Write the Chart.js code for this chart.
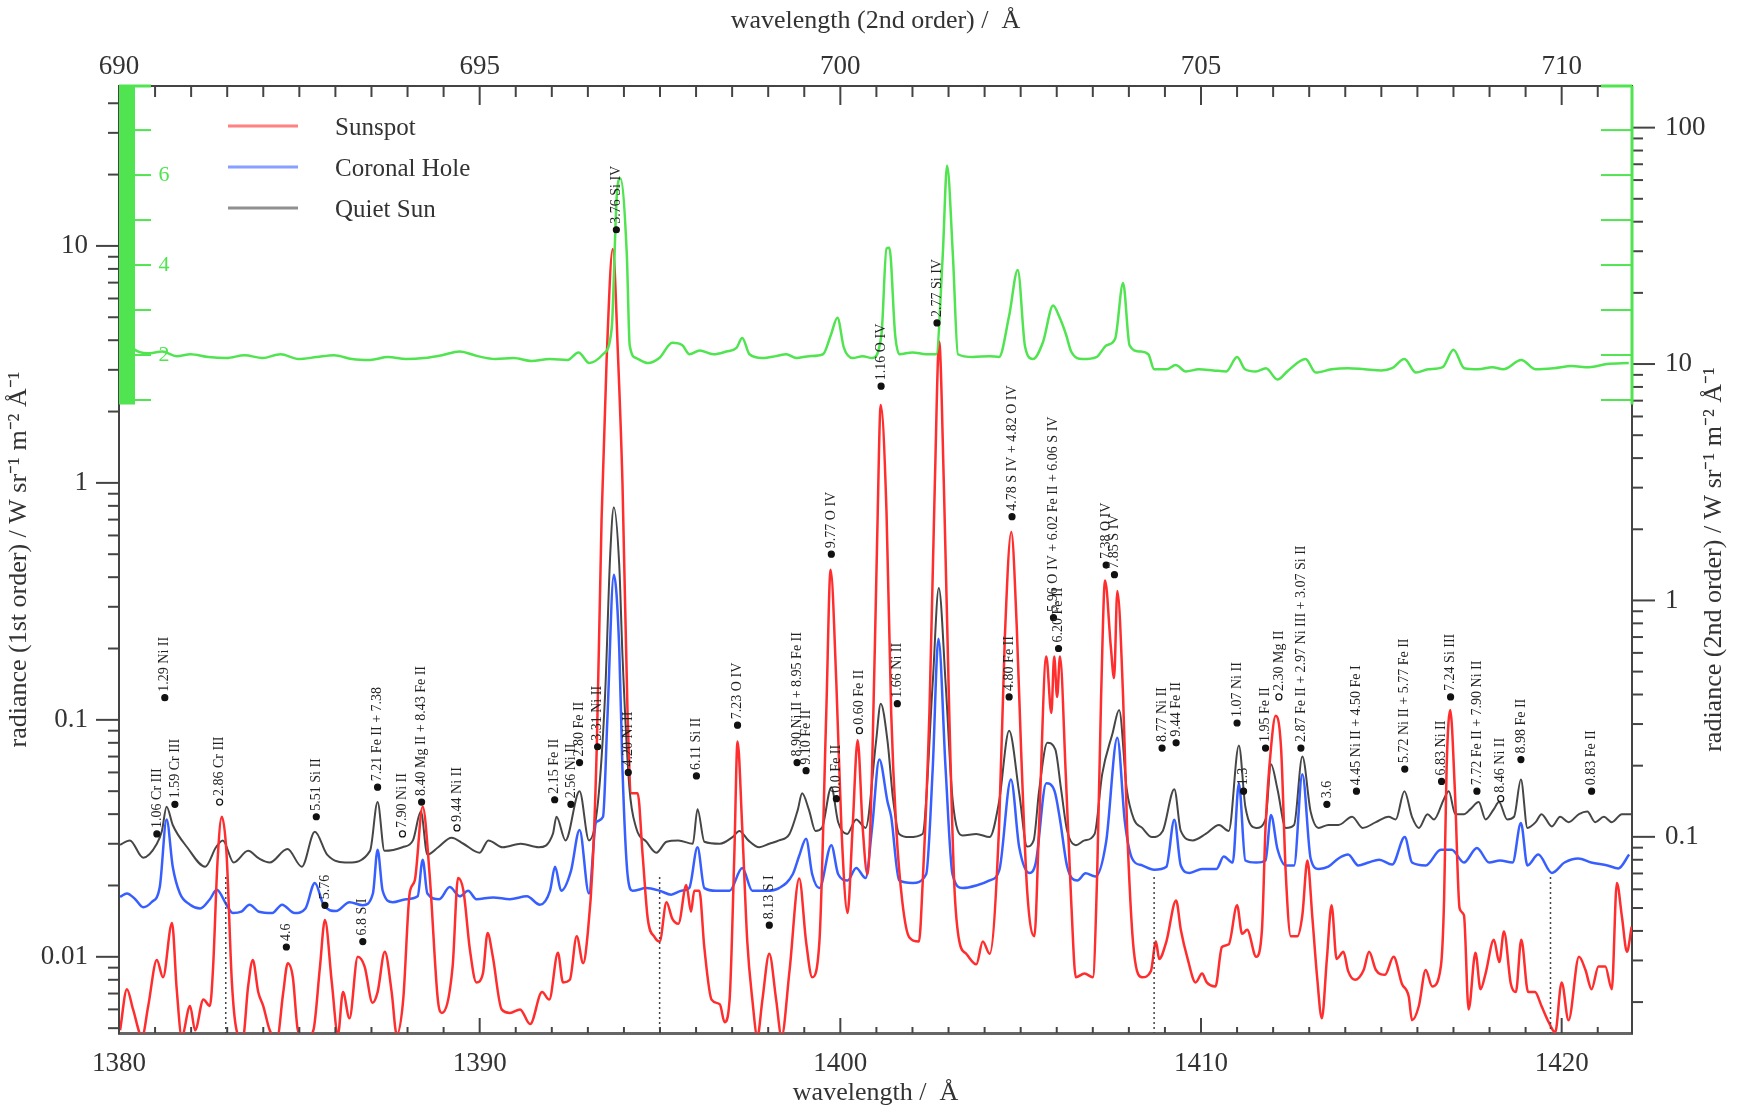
<!DOCTYPE html>
<html>
<head>
<meta charset="utf-8">
<title>Sunspot / coronal hole / quiet Sun spectra</title>
<script src="https://cdn.jsdelivr.net/npm/chart.js@4.4.1/dist/chart.umd.min.js"></script>
<style>
  html, body { margin: 0; padding: 0; background: #fff; }
</style>
</head>
<body>
<canvas id="spectrum" width="1740" height="1110"></canvas>
<script>
// wavelength (1st order, A) / radiance pairs
const sunspot = [[1380.03,0.0049],[1380.22,0.0073],[1380.39,0.0060],[1380.64,0.0046],[1380.81,0.0062],[1381.05,0.0097],[1381.22,0.0082],[1381.47,0.0139],[1381.60,0.0073],[1381.74,0.0046],[1381.97,0.0062],[1382.11,0.0049],[1382.34,0.0066],[1382.52,0.0062],[1382.61,0.0091],[1382.73,0.025],[1382.85,0.039],[1382.98,0.0275],[1383.13,0.0078],[1383.26,0.0049],[1383.43,0.0045],[1383.58,0.0075],[1383.71,0.0097],[1383.86,0.0071],[1384.00,0.0062],[1384.18,0.0049],[1384.38,0.0045],[1384.55,0.0070],[1384.68,0.0094],[1384.82,0.0082],[1384.96,0.0049],[1385.17,0.0045],[1385.39,0.0049],[1385.57,0.0090],[1385.71,0.0143],[1385.90,0.0078],[1386.07,0.0047],[1386.21,0.0071],[1386.39,0.0055],[1386.62,0.0100],[1386.81,0.0091],[1387.03,0.0064],[1387.17,0.0071],[1387.37,0.0105],[1387.56,0.0071],[1387.70,0.0047],[1387.88,0.0066],[1388.06,0.0186],[1388.20,0.021],[1388.42,0.043],[1388.61,0.0225],[1388.84,0.0066],[1388.95,0.0058],[1389.25,0.0091],[1389.40,0.0215],[1389.55,0.019],[1389.73,0.0107],[1389.91,0.0078],[1390.09,0.0085],[1390.22,0.0126],[1390.36,0.0101],[1390.61,0.0060],[1390.84,0.0058],[1391.12,0.0060],[1391.40,0.0052],[1391.73,0.0071],[1391.93,0.0066],[1392.17,0.0104],[1392.31,0.0078],[1392.50,0.0080],[1392.69,0.0122],[1392.87,0.0094],[1393.00,0.0127],[1393.13,0.024],[1393.25,0.08],[1393.38,0.7],[1393.52,3.3],[1393.69,9.7],[1393.84,3.3],[1393.96,0.99],[1394.10,0.107],[1394.21,0.049],[1394.38,0.049],[1394.52,0.0267],[1394.66,0.0145],[1394.85,0.0121],[1394.99,0.0116],[1395.18,0.017],[1395.34,0.0145],[1395.51,0.0138],[1395.73,0.0201],[1395.86,0.0155],[1395.95,0.019],[1396.09,0.019],[1396.23,0.0109],[1396.43,0.0066],[1396.66,0.0063],[1396.79,0.0053],[1396.93,0.0066],[1397.06,0.0267],[1397.15,0.081],[1397.28,0.035],[1397.42,0.0116],[1397.56,0.0066],[1397.70,0.0046],[1397.84,0.0066],[1398.03,0.0103],[1398.22,0.0066],[1398.37,0.0046],[1398.59,0.0087],[1398.86,0.0214],[1399.05,0.0116],[1399.22,0.0082],[1399.42,0.0116],[1399.61,0.107],[1399.73,0.43],[1399.89,0.142],[1400.03,0.035],[1400.20,0.0153],[1400.34,0.035],[1400.48,0.082],[1400.62,0.035],[1400.75,0.0223],[1400.88,0.0616],[1401.02,0.57],[1401.12,2.13],[1401.28,0.755],[1401.41,0.107],[1401.55,0.035],[1401.72,0.017],[1401.91,0.0121],[1402.18,0.0116],[1402.28,0.0201],[1402.47,0.107],[1402.62,0.99],[1402.74,3.95],[1402.87,0.99],[1403.02,0.107],[1403.16,0.0201],[1403.30,0.0116],[1403.49,0.0103],[1403.77,0.0093],[1403.95,0.0116],[1404.14,0.0103],[1404.40,0.035],[1404.56,0.22],[1404.74,0.62],[1404.89,0.25],[1405.01,0.076],[1405.18,0.019],[1405.38,0.0122],[1405.51,0.0354],[1405.71,0.185],[1405.85,0.107],[1405.93,0.185],[1406.01,0.125],[1406.09,0.185],[1406.25,0.059],[1406.40,0.0173],[1406.53,0.0082],[1406.77,0.0085],[1407.00,0.0082],[1407.12,0.022],[1407.23,0.125],[1407.34,0.387],[1407.50,0.203],[1407.59,0.15],[1407.68,0.35],[1407.84,0.125],[1407.95,0.0354],[1408.14,0.0105],[1408.37,0.0082],[1408.61,0.0087],[1408.75,0.0116],[1408.84,0.0098],[1409.04,0.0116],[1409.31,0.0173],[1409.44,0.013],[1409.63,0.0098],[1409.85,0.0078],[1410.03,0.0085],[1410.16,0.0078],[1410.40,0.0075],[1410.58,0.011],[1410.77,0.0113],[1411.00,0.0165],[1411.14,0.0125],[1411.28,0.013],[1411.53,0.010],[1411.69,0.013],[1411.79,0.0354],[1411.94,0.076],[1412.07,0.104],[1412.22,0.076],[1412.35,0.0225],[1412.49,0.0122],[1412.67,0.0122],[1412.81,0.015],[1412.95,0.0255],[1413.09,0.0145],[1413.22,0.0082],[1413.35,0.0055],[1413.49,0.0098],[1413.62,0.0165],[1413.76,0.0098],[1413.95,0.0105],[1414.08,0.0087],[1414.27,0.008],[1414.51,0.0088],[1414.66,0.0105],[1414.85,0.0088],[1415.10,0.0084],[1415.34,0.0100],[1415.57,0.0077],[1415.76,0.0068],[1415.85,0.0054],[1416.04,0.0062],[1416.23,0.0088],[1416.41,0.0075],[1416.65,0.0091],[1416.74,0.0174],[1416.81,0.063],[1416.91,0.11],[1417.04,0.05],[1417.17,0.016],[1417.29,0.015],[1417.42,0.006],[1417.61,0.0104],[1417.75,0.0073],[1417.89,0.0085],[1418.12,0.0118],[1418.27,0.0095],[1418.40,0.0128],[1418.59,0.0077],[1418.73,0.0071],[1418.88,0.0118],[1419.07,0.0071],[1419.26,0.0071],[1419.44,0.0062],[1419.64,0.0053],[1419.82,0.0048],[1420.00,0.0078],[1420.19,0.0054],[1420.48,0.0100],[1420.66,0.0088],[1420.83,0.0073],[1421.02,0.0091],[1421.21,0.0091],[1421.39,0.0073],[1421.53,0.0205],[1421.67,0.0148],[1421.81,0.0105],[1421.94,0.0134]];

const coronalHole = [[1380.03,0.0179],[1380.22,0.0185],[1380.45,0.0175],[1380.67,0.0162],[1380.90,0.0170],[1381.13,0.0197],[1381.32,0.038],[1381.49,0.024],[1381.69,0.0185],[1381.97,0.0166],[1382.25,0.0160],[1382.52,0.0175],[1382.71,0.0192],[1382.98,0.0166],[1383.16,0.0153],[1383.39,0.0155],[1383.62,0.0166],[1383.88,0.0155],[1384.25,0.0153],[1384.52,0.0166],[1384.87,0.0153],[1385.17,0.0160],[1385.43,0.0205],[1385.67,0.0166],[1386.02,0.0156],[1386.39,0.0170],[1386.76,0.0165],[1387.04,0.0185],[1387.17,0.0283],[1387.31,0.0190],[1387.59,0.0170],[1387.96,0.0175],[1388.28,0.0180],[1388.42,0.0257],[1388.55,0.0185],[1388.88,0.0175],[1389.17,0.0197],[1389.45,0.0180],[1389.68,0.0190],[1389.91,0.0175],[1390.37,0.0178],[1390.84,0.0175],[1391.31,0.0180],[1391.67,0.0166],[1391.95,0.0190],[1392.09,0.024],[1392.26,0.0190],[1392.53,0.023],[1392.77,0.0343],[1393.03,0.0185],[1393.23,0.037],[1393.42,0.039],[1393.54,0.1],[1393.72,0.41],[1393.87,0.2],[1393.96,0.0615],[1394.10,0.0223],[1394.24,0.0190],[1394.62,0.0195],[1394.99,0.0190],[1395.31,0.0183],[1395.59,0.0190],[1395.81,0.0195],[1396.04,0.029],[1396.23,0.0195],[1396.56,0.0190],[1396.93,0.0190],[1397.28,0.0237],[1397.56,0.0190],[1397.94,0.0190],[1398.30,0.0195],[1398.68,0.0223],[1398.86,0.0267],[1399.05,0.0315],[1399.22,0.0223],[1399.42,0.0195],[1399.75,0.0296],[1399.94,0.0223],[1400.20,0.0210],[1400.44,0.0237],[1400.70,0.0215],[1400.88,0.035],[1401.08,0.068],[1401.31,0.045],[1401.41,0.039],[1401.63,0.0210],[1402.00,0.0205],[1402.38,0.0223],[1402.56,0.0616],[1402.72,0.22],[1402.92,0.0616],[1403.11,0.0223],[1403.39,0.0195],[1403.77,0.0200],[1404.14,0.0210],[1404.41,0.0233],[1404.73,0.056],[1404.96,0.029],[1405.24,0.0226],[1405.42,0.025],[1405.71,0.054],[1405.94,0.050],[1406.09,0.038],[1406.29,0.024],[1406.57,0.021],[1406.80,0.0225],[1407.07,0.0218],[1407.37,0.0306],[1407.68,0.084],[1407.89,0.037],[1408.09,0.026],[1408.37,0.0243],[1408.70,0.0233],[1409.04,0.0240],[1409.26,0.0379],[1409.44,0.0243],[1409.68,0.0226],[1410.03,0.0235],[1410.43,0.0235],[1410.63,0.0265],[1410.88,0.0250],[1411.05,0.054],[1411.23,0.0255],[1411.53,0.0250],[1411.79,0.0255],[1411.94,0.0397],[1412.12,0.0285],[1412.35,0.0243],[1412.58,0.0243],[1412.81,0.059],[1413.04,0.026],[1413.26,0.0235],[1413.53,0.0240],[1413.81,0.026],[1414.08,0.027],[1414.36,0.0243],[1414.64,0.025],[1414.94,0.0257],[1415.30,0.0245],[1415.65,0.032],[1415.85,0.025],[1416.23,0.0243],[1416.65,0.0283],[1416.95,0.0283],[1417.29,0.025],[1417.65,0.0288],[1417.99,0.025],[1418.29,0.0255],[1418.64,0.025],[1418.87,0.0367],[1419.05,0.0243],[1419.35,0.027],[1419.73,0.0226],[1420.08,0.025],[1420.46,0.026],[1420.82,0.025],[1421.27,0.0243],[1421.57,0.0236],[1421.87,0.027]];

const quietSun = [[1380.03,0.0297],[1380.30,0.031],[1380.67,0.0262],[1381.05,0.030],[1381.19,0.034],[1381.32,0.043],[1381.49,0.036],[1381.89,0.029],[1382.39,0.024],[1382.69,0.029],[1382.88,0.031],[1383.18,0.025],[1383.58,0.028],[1383.88,0.026],[1384.18,0.025],[1384.67,0.0285],[1385.07,0.024],[1385.43,0.0337],[1385.77,0.027],[1386.36,0.025],[1386.96,0.028],[1387.17,0.045],[1387.36,0.028],[1387.86,0.029],[1388.15,0.031],[1388.37,0.041],[1388.55,0.027],[1388.85,0.029],[1389.22,0.0318],[1389.55,0.030],[1390.00,0.0275],[1390.24,0.031],[1390.64,0.029],[1391.14,0.030],[1391.64,0.029],[1392.03,0.033],[1392.13,0.039],[1392.38,0.031],[1392.77,0.050],[1393.03,0.031],[1393.28,0.045],[1393.48,0.13],[1393.62,0.5],[1393.72,0.79],[1393.87,0.45],[1393.96,0.186],[1394.15,0.052],[1394.34,0.035],[1394.62,0.0306],[1394.90,0.0275],[1395.18,0.0306],[1395.51,0.031],[1395.91,0.030],[1396.04,0.042],[1396.23,0.0306],[1396.66,0.030],[1397.01,0.032],[1397.20,0.034],[1397.45,0.031],[1397.75,0.029],[1398.03,0.030],[1398.30,0.031],[1398.59,0.033],[1398.82,0.0417],[1398.94,0.049],[1399.13,0.0417],[1399.31,0.034],[1399.49,0.035],[1399.75,0.052],[1399.94,0.037],[1400.19,0.033],[1400.44,0.038],[1400.70,0.035],[1400.99,0.081],[1401.12,0.117],[1401.31,0.081],[1401.46,0.0465],[1401.63,0.033],[1401.91,0.032],[1402.28,0.033],[1402.56,0.142],[1402.73,0.36],[1402.92,0.142],[1403.11,0.0465],[1403.39,0.0325],[1403.77,0.033],[1404.14,0.032],[1404.40,0.045],[1404.68,0.09],[1404.96,0.049],[1405.18,0.0292],[1405.36,0.031],[1405.51,0.05],[1405.74,0.080],[1405.96,0.075],[1406.12,0.051],[1406.29,0.034],[1406.53,0.0296],[1406.77,0.031],[1407.05,0.033],[1407.26,0.059],[1407.55,0.088],[1407.73,0.11],[1407.94,0.051],[1408.14,0.038],[1408.37,0.035],[1408.64,0.032],[1408.94,0.034],[1409.26,0.051],[1409.44,0.034],[1409.77,0.031],[1410.13,0.033],[1410.50,0.036],[1410.77,0.034],[1411.05,0.078],[1411.23,0.043],[1411.53,0.035],[1411.79,0.038],[1411.94,0.065],[1412.12,0.051],[1412.35,0.035],[1412.58,0.036],[1412.81,0.07],[1413.04,0.041],[1413.26,0.035],[1413.53,0.036],[1413.81,0.036],[1414.19,0.039],[1414.48,0.035],[1414.85,0.037],[1415.20,0.039],[1415.40,0.038],[1415.64,0.050],[1415.85,0.039],[1416.04,0.035],[1416.28,0.040],[1416.46,0.038],[1416.74,0.0465],[1416.87,0.050],[1417.05,0.040],[1417.29,0.040],[1417.47,0.042],[1417.70,0.045],[1417.89,0.038],[1418.12,0.042],[1418.26,0.045],[1418.49,0.038],[1418.68,0.039],[1418.87,0.056],[1419.05,0.035],[1419.28,0.037],[1419.44,0.040],[1419.73,0.0355],[1419.96,0.039],[1420.19,0.037],[1420.48,0.040],[1420.71,0.041],[1420.93,0.037],[1421.17,0.039],[1421.39,0.037],[1421.67,0.040],[1421.94,0.040]];

// 2nd order spectrum: wavelength on the top axis, radiance on the right axis
const secondOrder = [[690.00,11.5],[690.10,12.8],[690.20,11.6],[690.40,11.1],[690.60,11.3],[690.80,10.8],[690.99,11.0],[691.24,10.7],[691.49,10.6],[691.74,10.9],[691.99,10.6],[692.24,11.0],[692.49,10.5],[692.74,10.7],[692.98,10.9],[693.23,10.5],[693.48,10.4],[693.73,10.7],[693.98,10.5],[694.23,10.6],[694.48,10.9],[694.72,11.3],[694.97,10.8],[695.22,10.5],[695.47,10.6],[695.72,10.3],[695.97,10.5],[696.22,10.4],[696.37,11.2],[696.52,10.1],[696.71,11.0],[696.83,14.1],[696.90,51],[696.95,61],[697.04,29],[697.08,12],[697.17,10.6],[697.33,10.1],[697.49,10.6],[697.67,12.3],[697.81,12.0],[697.91,11.0],[698.05,11.4],[698.24,11.0],[698.42,11.3],[698.56,11.7],[698.64,12.9],[698.74,11.0],[698.92,10.6],[699.11,10.8],[699.25,11.0],[699.39,10.6],[699.57,10.8],[699.76,11.0],[699.87,13.3],[699.96,15.7],[700.05,11.7],[700.17,10.6],[700.31,10.8],[700.44,10.6],[700.57,13.3],[700.64,30.8],[700.68,31],[700.76,13.3],[700.82,11.0],[701.00,11.2],[701.19,11.0],[701.33,11.0],[701.42,29],[701.48,69],[701.56,29],[701.63,11.0],[701.84,10.7],[702.07,10.8],[702.20,10.7],[702.34,16],[702.46,25],[702.56,11.9],[702.67,10.5],[702.81,12.4],[702.95,17.7],[703.03,16],[703.13,13.3],[703.20,11.3],[703.36,10.5],[703.55,10.7],[703.69,12.0],[703.81,12.8],[703.92,22],[704.01,12.0],[704.15,11.3],[704.27,11.0],[704.35,9.5],[704.52,9.5],[704.65,9.9],[704.79,9.3],[704.97,9.5],[705.17,9.4],[705.35,9.3],[705.50,10.7],[705.61,9.5],[705.76,9.3],[705.90,9.6],[706.06,8.6],[706.21,9.4],[706.45,10.5],[706.59,9.2],[706.81,9.5],[707.04,9.6],[707.27,9.5],[707.50,9.4],[707.65,9.6],[707.82,10.5],[707.98,9.2],[708.15,9.5],[708.35,9.7],[708.50,11.5],[708.65,9.6],[708.84,9.5],[709.04,9.7],[709.19,9.5],[709.44,10.4],[709.64,9.5],[709.89,9.6],[710.14,9.8],[710.38,9.7],[710.63,10.0],[710.93,10.1]];

const seriesNames = ["Sunspot", "Coronal Hole", "Quiet Sun"];
const seriesColors = ["rgb(255,45,45)", "rgb(55,95,255)", "rgb(70,70,70)"];
const greenColor = "rgb(80,228,80)";

// line identifications: position of the marker and its label
const markerWave = [1381.05,1381.27,1381.55,1382.79,1384.64,1385.47,1385.71,1386.76,1387.17,1387.86,1388.39,1389.37,1392.08,1392.53,1392.77,1393.27,1393.79,1394.12,1396.01,1397.15,1398.03,1398.80,1399.05,1399.75,1399.89,1400.53,1401.13,1401.58,1402.68,1404.68,1404.76,1405.91,1406.05,1407.37,1407.60,1408.92,1409.31,1411.00,1411.18,1411.79,1412.16,1412.77,1413.49,1414.31,1415.65,1416.67,1416.92,1417.65,1418.31,1418.87,1420.83];
const markerRad = [0.033,0.124,0.044,0.045,0.011,0.039,0.0165,0.0116,0.052,0.033,0.045,0.035,0.046,0.044,0.066,0.077,11.7,0.06,0.058,0.095,0.0136,0.066,0.061,0.50,0.0465,0.09,2.56,0.117,4.73,0.125,0.72,0.27,0.20,0.45,0.41,0.076,0.08,0.097,0.05,0.076,0.125,0.076,0.044,0.05,0.062,0.055,0.125,0.05,0.0465,0.068,0.05];
const markerText = ["1.06 Cr III","1.29 Ni II","1.59 Cr III","2.86 Cr III","4.6","5.51 Si II","5.76","6.8 S I","7.21 Fe II + 7.38","7.90 Ni II","8.40 Mg II + 8.43 Fe II","9.44 Ni II","2.15 Fe II","2.56 Ni II","2.80 Fe II","3.31 Ni II","3.76 Si IV","4.20 Ni II","6.11 Si II","7.23 O IV","8.13 S I","8.90 Ni II + 8.95 Fe II","9.10 Fe II","9.77 O IV","0.0 Fe II","0.60 Fe II","1.16 O IV","1.66 Ni II","2.77 Si IV","4.80 Fe II","4.78 S IV + 4.82 O IV","5.96 O IV + 6.02 Fe II + 6.06 S IV","6.20 Fe II","7.38 O IV","7.85 S IV","8.77 Ni II","9.44 Fe II","1.07 Ni II","1.3","1.95 Fe II","2.30 Mg II","2.87 Fe II + 2.97 Ni III + 3.07 Si II","3.6","4.45 Ni II + 4.50 Fe I","5.72 Ni II + 5.77 Fe II","6.83 Ni II","7.24 Si III","7.72 Fe II + 7.90 Ni II","8.46 Ni II","8.98 Fe II","0.83 Fe II"];
const markerOpen = [3, 9, 11, 25, 40, 48];

// dotted cuts from the bottom of the frame
const cutWave = [1382.96, 1394.99, 1408.70, 1419.69];
const cutBottom = 0.0045;
const cutTop = 0.022;

// axes
const bottomTicks = [1380, 1390, 1400, 1410, 1420];
const topTicks = [690, 695, 700, 705, 710];
const leftTicks = [0.01, 0.1, 1, 10];
const rightTicks = [0.1, 1, 10, 100];
const greenTicks = [2, 4, 6];
const greenMinor = [1, 2, 3, 4, 5, 6, 7];

const SERIF = "'Liberation Serif', 'Times New Roman', serif";

function pts(arr) {
  return arr.map((p) => ({ x: p[0], y: p[1] }));
}

function line(ctx, x1, y1, x2, y2) {
  ctx.beginPath();
  ctx.moveTo(x1, y1);
  ctx.lineTo(x2, y2);
  ctx.stroke();
}

function logTicks(ctx, scale, x0, dir) {
  let e0 = Math.floor(Math.log10(scale.min));
  let e1 = Math.floor(Math.log10(scale.max));
  for (let e = e0; e <= e1; e++) {
    for (let m = 1; m <= 9; m++) {
      let v = m * Math.pow(10, e);
      if (v < scale.min || v > scale.max) continue;
      let py = scale.getPixelForValue(v);
      line(ctx, x0, py, x0 + dir * (m === 1 ? 23 : 11), py);
    }
  }
}

// tick marks, green frame, legend and right axis title
const decor = {
  id: "decor",
  afterDraw(chart) {
    const ctx = chart.ctx;
    const a = chart.chartArea;
    const s = chart.scales;
    ctx.save();

    ctx.strokeStyle = "#444";
    ctx.lineWidth = 2;
    for (let w = 1380; w <= s.x.max; w++) {
      let px = s.x.getPixelForValue(w);
      line(ctx, px, a.bottom, px, a.bottom - (w % 10 === 0 ? 15 : 6));
    }
    for (let k = 0; 690 + k * 0.5 <= s.x2.max; k++) {
      let px = s.x2.getPixelForValue(690 + k * 0.5);
      line(ctx, px, a.top, px, a.top + (k % 10 === 0 ? 19 : 11));
    }
    logTicks(ctx, s.y, a.left, -1);
    logTicks(ctx, s.y2, a.right, 1);

    // green frame of the 2nd order plot
    const g = s.yg;
    const low = g.getPixelForValue(0.9);
    ctx.fillStyle = greenColor;
    ctx.fillRect(a.left, a.top, 16, low - a.top);
    ctx.strokeStyle = greenColor;
    ctx.lineWidth = 3;
    line(ctx, a.right, a.top, a.right, low);
    line(ctx, a.left, a.top, a.left + 32, a.top);
    line(ctx, a.right - 31, a.top, a.right, a.top);
    ctx.lineWidth = 2;
    greenMinor.forEach((v) => {
      let py = g.getPixelForValue(v);
      line(ctx, a.left + 16, py, a.left + 32, py);
      line(ctx, a.right - 31, py, a.right, py);
    });
    ctx.fillStyle = greenColor;
    ctx.font = "22px " + SERIF;
    ctx.textAlign = "center";
    ctx.textBaseline = "middle";
    greenTicks.forEach((v) => {
      ctx.fillText(String(v), a.left + 45, g.getPixelForValue(v));
    });

    // legend
    ctx.font = "25px " + SERIF;
    ctx.textAlign = "left";
    ctx.lineWidth = 3;
    seriesNames.forEach((name, i) => {
      let y = 126 + i * 41;
      ctx.strokeStyle = seriesColors[i];
      ctx.globalAlpha = 0.6;
      line(ctx, 228, y, 298, y);
      ctx.globalAlpha = 1;
      ctx.fillStyle = "#333";
      ctx.fillText(name, 335, y + 2);
    });

    // right axis title reads bottom to top like the left one
    ctx.translate(1714, (a.top + a.bottom) / 2);
    ctx.rotate(-Math.PI / 2);
    ctx.textAlign = "center";
    ctx.fillStyle = "#333";
    ctx.font = "26px " + SERIF;
    ctx.fillText("radiance (2nd order) / W sr\u207B\u00B9 m\u207B\u00B2 \u00C5\u207B\u00B9", 0, 0);
    ctx.restore();
  },
};

// rotated identification labels above the markers
const lineLabels = {
  id: "lineLabels",
  afterDatasetsDraw(chart) {
    const ctx = chart.ctx;
    const meta = chart.getDatasetMeta(0);
    ctx.save();
    ctx.font = "14px " + SERIF;
    ctx.fillStyle = "#222";
    ctx.textAlign = "left";
    ctx.textBaseline = "middle";
    meta.data.forEach((pt, i) => {
      ctx.save();
      ctx.translate(pt.x, pt.y - 6);
      ctx.rotate(-Math.PI / 2);
      ctx.fillText(markerText[i], 0, 0);
      ctx.restore();
    });
    ctx.restore();
  },
};

const cutPoints = [];
cutWave.forEach((w) => {
  cutPoints.push({ x: w, y: cutBottom }, { x: w, y: cutTop }, { x: w, y: null });
});

const markerPoints = markerWave.map((w, i) => ({ x: w, y: markerRad[i] }));
const markerFill = markerWave.map((w, i) => (markerOpen.includes(i) ? "#fff" : "#111"));

const tickFont = { family: SERIF, size: 27 };
const titleFont = { family: SERIF, size: 26 };

function spectrum(label, data, color, width, xId, yId) {
  return {
    label: label,
    data: pts(data),
    borderColor: color,
    borderWidth: width,
    pointRadius: 0,
    cubicInterpolationMode: "monotone",
    xAxisID: xId,
    yAxisID: yId,
  };
}

const ctx = document.getElementById("spectrum").getContext("2d");
const chart = new Chart(ctx, {
  type: "line",
  data: {
    datasets: [
      {
        label: "lines",
        data: markerPoints,
        showLine: false,
        pointRadius: 3,
        pointBackgroundColor: markerFill,
        pointBorderColor: "#111",
        pointBorderWidth: 1.2,
        xAxisID: "x",
        yAxisID: "y",
      },
      {
        label: "cuts",
        data: cutPoints,
        borderColor: "#444",
        borderWidth: 1.5,
        borderDash: [2, 3],
        pointRadius: 0,
        spanGaps: false,
        xAxisID: "x",
        yAxisID: "y",
      },
      spectrum("2nd order", secondOrder, greenColor, 2.5, "x2", "y2"),
      spectrum(seriesNames[0], sunspot, seriesColors[0], 2.5, "x", "y"),
      spectrum(seriesNames[1], coronalHole, seriesColors[1], 2.5, "x", "y"),
      spectrum(seriesNames[2], quietSun, seriesColors[2], 2, "x", "y"),
    ],
  },
  options: {
    responsive: false,
    animation: false,
    devicePixelRatio: 1,
    events: [],
    layout: { padding: 0 },
    plugins: {
      legend: { display: false },
      tooltip: { enabled: false },
    },
    scales: {
      x: {
        type: "linear",
        position: "bottom",
        min: 1380,
        max: 1421.95,
        afterBuildTicks: (s) => { s.ticks = bottomTicks.map((v) => ({ value: v })); },
        afterFit: (s) => { s.height = 77; },
        grid: { display: false, drawTicks: false },
        border: { display: true, color: "#666", width: 3 },
        ticks: { font: tickFont, color: "#333", padding: 15, maxRotation: 0, autoSkip: false, callback: (v) => String(v) },
        title: { display: true, text: "wavelength /  \u00C5", font: titleFont, color: "#333", padding: { top: 0, bottom: 1 } },
      },
      x2: {
        type: "linear",
        position: "top",
        min: 690,
        max: 710.975,
        afterBuildTicks: (s) => { s.ticks = topTicks.map((v) => ({ value: v })); },
        afterFit: (s) => { s.height = 86; },
        grid: { display: false, drawTicks: false },
        border: { display: true, color: "#444", width: 2 },
        ticks: { font: tickFont, color: "#333", padding: 3, maxRotation: 0, autoSkip: false, callback: (v) => String(v) },
        title: { display: true, text: "wavelength (2nd order) /  \u00C5", font: titleFont, color: "#333", padding: { top: 6, bottom: 0 } },
      },
      y: {
        type: "logarithmic",
        position: "left",
        min: 0.00477,
        max: 47.3,
        afterBuildTicks: (s) => { s.ticks = leftTicks.map((v) => ({ value: v })); },
        afterFit: (s) => { s.width = 119; },
        grid: { display: false, drawTicks: false },
        border: { display: true, color: "#444", width: 2 },
        ticks: { font: tickFont, color: "#333", padding: 31, autoSkip: false, callback: (v) => String(v) },
        title: { display: true, text: "radiance (1st order) / W sr\u207B\u00B9 m\u207B\u00B2 \u00C5\u207B\u00B9", font: titleFont, color: "#333", padding: { top: 4, bottom: 0 } },
      },
      y2: {
        type: "logarithmic",
        position: "right",
        min: 0.0148,
        max: 150,
        afterBuildTicks: (s) => { s.ticks = rightTicks.map((v) => ({ value: v })); },
        afterFit: (s) => { s.width = 108; },
        grid: { display: false, drawTicks: false },
        border: { display: true, color: "#444", width: 2 },
        ticks: { font: tickFont, color: "#333", padding: 33, autoSkip: false, callback: (v) => String(v) },
      },
      yg: {
        type: "linear",
        display: false,
        min: -13.07,
        max: 7.98,
      },
    },
  },
  plugins: [lineLabels, decor],
});
</script>
</body>
</html>
